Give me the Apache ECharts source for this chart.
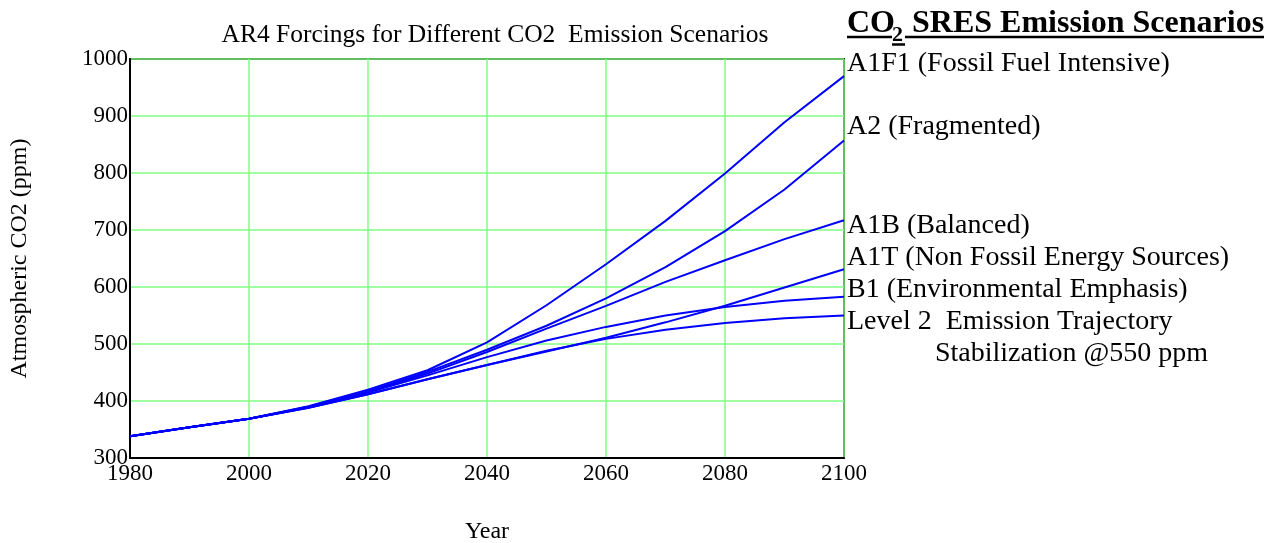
<!DOCTYPE html>
<html>
<head>
<meta charset="utf-8">
<script src="https://cdn.jsdelivr.net/npm/echarts@6/dist/echarts.min.js"></script>
<style>html,body{margin:0;padding:0;background:#fff}#c{width:1276px;height:543px}</style>
</head>
<body>
<div id="c"></div>
<script>
const years = [1980, 1990, 2000, 2010, 2020, 2030, 2040, 2050, 2060, 2070, 2080, 2090, 2100];
const a1fi  = [338, 354, 369, 391, 420, 454, 503, 568, 640, 716, 799, 889, 970];
const a2    = [338, 354, 369, 390, 417, 451, 490, 532, 580, 635, 698, 771, 857];
const a1b   = [338, 354, 369, 389, 416, 448, 486, 527, 567, 609, 647, 684, 717];
const a1t   = [338, 354, 369, 389, 415, 445, 477, 506, 530, 550, 565, 576, 583];
const b1    = [338, 354, 369, 388, 412, 438, 463, 488, 509, 525, 537, 545, 550];
const lvl2  = [338, 354, 369, 388, 412, 438, 463, 487, 511, 538, 567, 599, 631];
const seriesNames = ['A1FI', 'A2', 'A1B', 'A1T', 'B1', 'Level 2'];
const seriesData = [a1fi, a2, a1b, a1t, b1, lvl2];
const xTicks = [1980, 2000, 2020, 2040, 2060, 2080, 2100];
const yTicks = [300, 400, 500, 600, 700, 800, 900, 1000];
const legendLines = [
  'A1F1 (Fossil Fuel Intensive)',
  'A2 (Fragmented)',
  'A1B (Balanced)',
  'A1T (Non Fossil Energy Sources)',
  'B1 (Environmental Emphasis)',
  'Level 2  Emission Trajectory',
  'Stabilization @550 ppm'
];

const FONT = '"Liberation Serif", "DejaVu Serif", serif';
const chart = echarts.init(document.getElementById('c'), null, {renderer: 'canvas'});

const labelPos = [
  {x: 847, y: 64}, {x: 847, y: 127}, {x: 847, y: 226}, {x: 847, y: 258},
  {x: 847, y: 290}, {x: 847, y: 322}, {x: 935, y: 354}
];

chart.setOption({
  animation: false,
  backgroundColor: '#fff',
  title: {
    text: 'AR4 Forcings for Different CO2  Emission Scenarios',
    left: 490, top: 17, textAlign: 'center',
    textStyle: {fontFamily: FONT, fontSize: 25.5, fontWeight: 'normal', color: '#000'}
  },
  grid: {left: 130, right: 432, top: 59, bottom: 85, show: true, borderColor: '#000', borderWidth: 2, containLabel: false, outerBoundsMode: 'none'},
  xAxis: {
    type: 'value', min: xTicks[0], max: xTicks[xTicks.length - 1], interval: 20,
    name: 'Year', nameLocation: 'middle', nameGap: 62,
    nameTextStyle: {fontFamily: FONT, fontSize: 24, color: '#000'},
    axisLine: {show: true, lineStyle: {color: '#000', width: 2}},
    axisTick: {show: false},
    axisLabel: {fontFamily: FONT, fontSize: 23, color: '#000', margin: 4, formatter: v => String(v)},
    splitLine: {show: true, lineStyle: {color: '#80ff80', width: 1.5}}
  },
  yAxis: {
    type: 'value', min: yTicks[0], max: yTicks[yTicks.length - 1], interval: 100,
    name: 'Atmospheric CO2 (ppm)', nameLocation: 'middle', nameGap: 98, nameRotate: 90,
    nameTextStyle: {fontFamily: FONT, fontSize: 24, color: '#000'},
    axisLine: {show: true, lineStyle: {color: '#000', width: 2}},
    axisTick: {show: false},
    axisLabel: {fontFamily: FONT, fontSize: 23, color: '#000', margin: 2, formatter: v => String(v)},
    splitLine: {show: true, lineStyle: {color: '#80ff80', width: 1.5}}
  },
  series: seriesData.map((d, i) => ({
    name: seriesNames[i], type: 'line', showSymbol: false, symbol: 'none',
    data: years.map((y, j) => [y, d[j]]),
    lineStyle: {color: '#0000ff', width: 2}, z: 3
  })),
  graphic: [
    {type: 'text', x: 847, y: 24, style: {text: 'CO', fontFamily: FONT, fontSize: 32, fontWeight: 'bold', fill: '#000', verticalAlign: 'middle'}},
    {type: 'text', x: 892, y: 35.5, style: {text: '2', fontFamily: FONT, fontSize: 22, fontWeight: 'bold', fill: '#000', verticalAlign: 'middle'}},
    {type: 'text', x: 904, y: 24, style: {text: ' SRES Emission Scenarios', fontFamily: FONT, fontSize: 32, fontWeight: 'bold', fill: '#000', verticalAlign: 'middle'}},
    {type: 'line', shape: {x1: 847, y1: 37, x2: 892, y2: 37}, style: {stroke: '#000', lineWidth: 2.5}},
    {type: 'line', shape: {x1: 892, y1: 44.5, x2: 905, y2: 44.5}, style: {stroke: '#000', lineWidth: 2.5}},
    {type: 'line', shape: {x1: 905, y1: 37, x2: 1264, y2: 37}, style: {stroke: '#000', lineWidth: 2.5}}
  ].concat(legendLines.map((t, i) => ({
    type: 'text', x: labelPos[i].x, y: labelPos[i].y,
    style: {text: t, fontFamily: FONT, fontSize: 28, fill: '#000', verticalAlign: 'middle'}
  })))
});
</script>
</body>
</html>
